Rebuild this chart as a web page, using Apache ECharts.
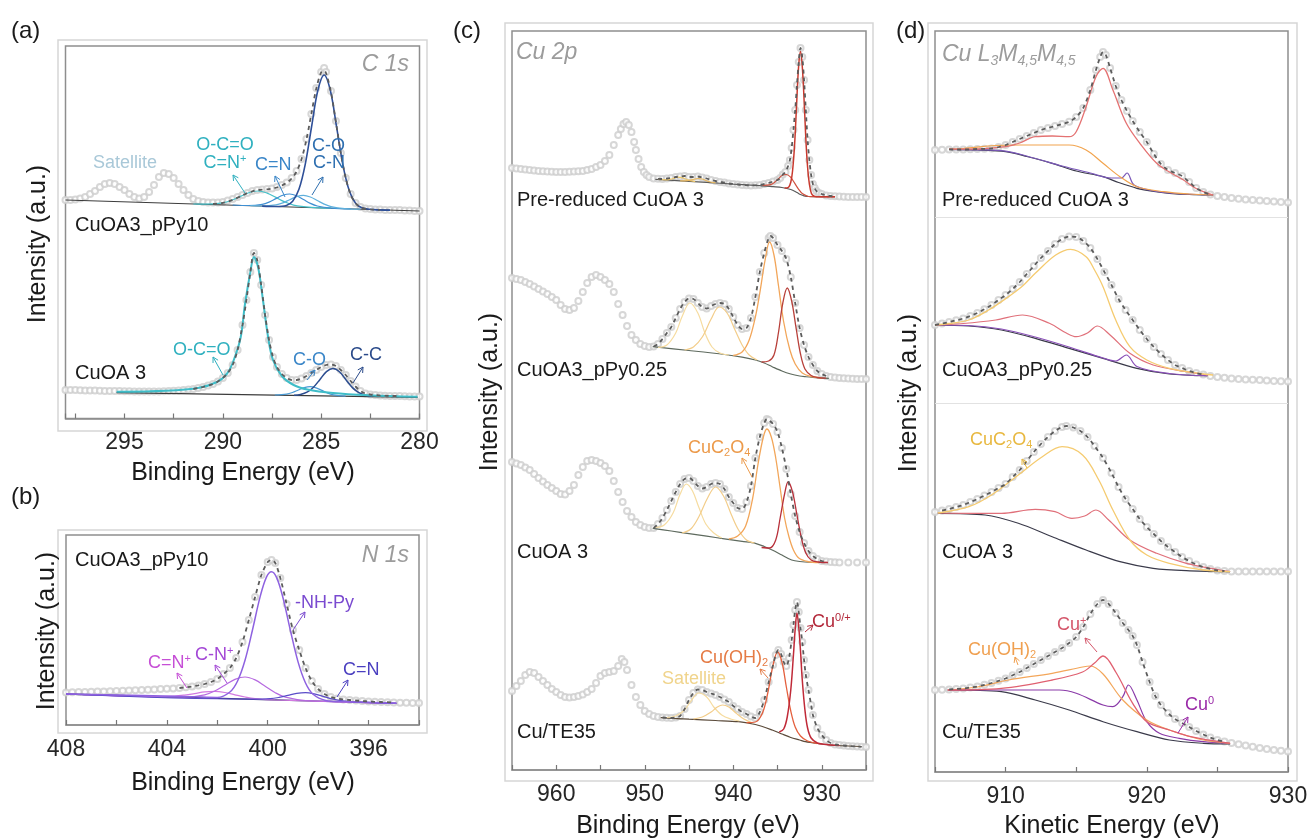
<!DOCTYPE html>
<html><head><meta charset="utf-8">
<script src="https://cdn.jsdelivr.net/npm/echarts@6/dist/echarts.min.js"></script>
<style>html,body{margin:0;padding:0;background:#fff}#c{width:1311px;height:840px}</style>
</head><body><div id="c"></div>
<script>
// ===================== DATA =====================
// tick labels
const ticksA = [295, 290, 285, 280];
const ticksB = [408, 404, 400, 396];
const ticksC = [960, 950, 940, 930];
const ticksD = [910, 920, 930];

// ---- (a) C 1s, CuOA3_pPy10  [binding energy eV, intensity a.u.]
const a1Data = [[298,15],[297.75,15],[297.5,15.5],[297.25,16.5],[297,18],[296.75,21],[296.5,24],[296.25,28],[296,31],[295.75,32],[295.5,31],[295.25,28],[295,25],[294.75,21],[294.5,18],[294.25,16.5],[294,18],[293.75,23],[293.5,30],[293.25,38],[293,42],[292.75,41],[292.5,37],[292.25,31],[292,25],[291.75,20],[291.5,16],[291.25,14],[291,13],[290.75,12.5],[290.5,12.5],[290.25,12.5],[290,13],[289.75,14.5],[289.5,16],[289.25,18],[289,20],[288.75,22],[288.5,24],[288.25,25],[288,25.5],[287.75,26],[287.5,26.5],[287.25,28],[287,30],[286.75,32.5],[286.5,37],[286.25,44],[286,56],[285.75,76],[285.5,101],[285.25,127],[285,143],[284.85,147],[284.75,143],[284.5,124],[284.25,94],[284,62],[283.75,37],[283.5,21],[283.25,12],[283,8],[282.75,6.5],[282.5,6],[282.25,5.5],[282,5.5],[281.75,5],[281.5,5],[281.25,5],[281,5],[280.75,4.5],[280.5,4.5],[280.25,4],[280,4]];
const a1Fit = [[290.5,11.0],[290,12.1],[289.5,15.1],[289,19.6],[288.75,22.0],[288.5,23.7],[288.25,24.8],[288,25.4],[287.75,25.7],[287.5,26.3],[287.25,27.5],[287,29.5],[286.75,32.2],[286.5,36.5],[286.25,43.5],[286,55.8],[285.75,75.3],[285.5,101],[285.25,126.4],[285,142.7],[284.85,144.5],[284.75,141.8],[284.5,123],[284.25,93],[284,61.9],[283.75,36.7],[283.5,20.5],[283.25,11.8],[283,7.9],[282.75,6.3],[282.5,5.6],[282,5.2]];
const a1Bg = [[298,15],[280,4]];
const a1Main = [[288,8.9],[287.3,8.5],[286.77,9.6],[286.45,13.8],[286.13,25.7],[285.81,50.7],[285.49,88],[285.17,124.5],[284.85,140],[284.53,124.2],[284.21,87.3],[283.89,49.6],[283.57,24.2],[283.25,11.8],[282.93,7.3],[282.3,5.4],[281.5,4.9]];
const a1CO = [[288.6,9.3],[288.0,9.0],[287.3,10.1],[286.95,12.1],[286.6,15.3],[286.25,18.4],[285.9,19.6],[285.55,18.0],[285.2,14.5],[284.85,10.9],[284.5,8.4],[283.8,6.4],[283,5.8]];
const a1CN = [[289.5,10],[288.7,9.5],[288.0,10.7],[287.65,12.9],[287.3,16.4],[286.95,19.7],[286.6,21.0],[286.25,19.3],[285.9,15.5],[285.55,11.6],[285.2,9.0],[284.5,6.9],[283.5,6.1]];
const a1OCO = [[291.5,11],[290.9,10.8],[290.0,12.1],[289.55,14.7],[289.1,18.6],[288.65,22.5],[288.2,24.0],[287.75,21.9],[287.3,17.6],[286.85,13.1],[286.4,9.9],[285.5,7.6],[284.5,6.8]];

// ---- (a) C 1s, CuOA 3
const a2Data = [[298,10],[297.75,10],[297.5,10],[297.25,9.8],[297,9.6],[296.75,9.5],[296.5,9.4],[296.25,9.2],[296,9],[295.75,9],[295.5,9],[295.25,8.9],[295,8.8],[294.75,8.7],[294.5,8.6],[294.25,8.5],[294,8.5],[293.75,8.5],[293.5,8.5],[293.25,8.6],[293,8.8],[292.75,9],[292.5,9.2],[292.25,9.5],[292,10],[291.75,10.5],[291.5,11],[291.25,12],[291,13],[290.75,14.5],[290.5,16],[290.25,18.5],[290,22],[289.75,27],[289.5,35],[289.25,50],[289,75],[288.8,100],[288.6,128],[288.42,147],[288.25,140],[288.05,115],[287.85,85],[287.65,60],[287.45,43],[287.25,33],[287,26],[286.75,22],[286.5,20],[286.25,20],[286,21.5],[285.75,24],[285.5,27],[285.25,30],[285,33],[284.75,35],[284.5,35.5],[284.25,34],[284,30],[283.75,25],[283.5,19],[283.25,13.5],[283,9],[282.75,6.5],[282.5,5.5],[282.25,5],[282,4.5],[281.75,4.3],[281.5,4],[281.25,4],[281,4],[280.75,3.8],[280.5,3.5],[280.25,3.5],[280,3.5]];
const a2Bg = [[295.4,7.3],[280.1,2.7]];
const a2OCO = [[295.4,8.3],[292.9,9.3],[291.2,12.3],[290.3,18],[289.8,26],[289.5,37],[289.1,62],[288.88,95],[288.6,128],[288.42,143],[288.2,132],[287.96,100],[287.7,63],[287.45,40],[287,24],[286.4,15],[285.7,10.5],[284.4,7],[282.6,4.8],[280.1,3.2]];
const a2CO = [[287.36,5.0],[286.76,5.9],[286.46,7.5],[286.16,10],[285.86,12.3],[285.56,13.3],[285.26,12.1],[284.96,9.6],[284.66,6.9],[284.36,5.1],[283.76,3.9]];
const a2CC = [[286.38,4.8],[286.05,5.6],[285.72,7.8],[285.39,12.8],[285.06,20.6],[284.73,28.4],[284.4,31.5],[284.07,28.2],[283.74,20.3],[283.41,12.4],[283.08,7.3],[282.75,4.7],[282.42,3.7]];

// ---- (b) N 1s, CuOA3_pPy10
const bData = [[408,17.5],[407.75,17.7],[407.5,18],[407.25,18],[407,18.2],[406.75,18.4],[406.5,18.6],[406.25,18.8],[406,19],[405.75,19.2],[405.5,19.5],[405.25,19.7],[405,20],[404.75,20.3],[404.5,20.6],[404.25,20.9],[404,21.2],[403.75,21.6],[403.5,22],[403.25,22.7],[403,23.5],[402.75,24.6],[402.5,26],[402.25,28],[402,31],[401.75,36],[401.5,42],[401.25,52],[401,68],[400.75,90],[400.5,113],[400.25,135],[400,148],[399.85,150],[399.7,147],[399.5,132],[399.25,106],[399,80],[398.75,60],[398.5,42],[398.25,29],[398,21],[397.75,16],[397.5,13],[397.25,11.5],[397,10.5],[396.75,10],[396.5,9.5],[396.25,9],[396,8.5],[395.75,8.2],[395.5,8],[395.25,7.8],[395,7.5],[394.75,7.3],[394.5,7.2],[394.25,7],[394,7]];
const bBg = [[408,16],[394.9,6.7]];
const bNHPy = [[408,16],[403,13.3],[402,12.6],[401.5,18],[401.2,28.8],[400.9,49.8],[400.6,80.5],[400.3,113.4],[400.05,132.9],[399.85,138.2],[399.65,132.6],[399.4,112.8],[399.1,79.5],[398.8,48.4],[398.5,27],[398.2,15.7],[397.7,9.6],[397,8.4],[394.9,6.7]];
const bCNp = [[408,16],[403.3,12.9],[402.5,15.1],[402.1,19],[401.7,24.8],[401.3,30.6],[400.9,33],[400.5,30.1],[400.1,23.7],[399.7,17.3],[399.3,12.8],[398.5,9.5],[394.9,6.7]];
const bCdNp = [[408,16],[404.5,13.5],[403.7,13.9],[403.3,14.9],[402.9,16.4],[402.5,18.1],[402.1,18.6],[401.7,17.5],[401.3,15.2],[400.9,13],[400.5,11.4],[399.7,10],[394.9,6.7]];
const bCdN = [[408,16],[400.6,10.8],[399.9,11.3],[399.55,12.6],[399.2,14.6],[398.85,16.6],[398.5,17.3],[398.15,16.1],[397.8,13.7],[397.45,11.1],[397.1,9.4],[396.4,7.9],[394.9,6.7]];

// ---- (c) Cu 2p
const c1Data = [[965,32],[964.5,31.5],[964,31],[963.5,30.5],[963,30],[962.5,29.5],[962,29],[961.5,28.7],[961,28.5],[960.5,28.2],[960,28],[959.5,28],[959,28],[958.5,28.2],[958,28.5],[957.5,28.8],[957,29],[956.5,30],[956,31],[955.5,33],[955,35],[954.5,39],[954,45],[953.5,55],[953,65],[952.7,71],[952.4,76],[952.1,78],[951.8,75],[951.5,68],[951.2,58],[951,50],[950.7,41],[950.4,33],[950.1,28],[949.8,25],[949.5,23],[949,21.5],[948.5,21.2],[948,21],[947.5,21.5],[947,22],[946.5,23],[946,23.5],[945.5,24],[945,23],[944.5,23],[944,23.5],[943.5,22.5],[943,21.5],[942.5,20],[942,19],[941.5,18],[941,17.5],[940.5,16.5],[940,16],[939.5,15.5],[939,15],[938.5,14.7],[938,14.5],[937.5,14.7],[937,15],[936.5,16],[936,17],[935.5,18.5],[935,20],[934.7,22],[934.4,25.5],[934.1,28],[933.8,34],[933.6,40],[933.4,52],[933.2,70],[933,90],[932.8,115],[932.6,138],[932.4,152],[932.2,143],[932,120],[931.8,90],[931.6,60],[931.4,40],[931.2,25],[931,16],[930.8,12],[930.6,9],[930.3,7],[930,6],[929.5,4.5],[929,4],[928.5,3.7],[928,3.5],[927.5,3.3],[927,3],[926.5,3],[926,3],[925.5,3],[925,3]];
const c1Bg = [[948.8,20.7],[946,19.2],[943,17.6],[940,15.9],[937,14.4],[935.5,13.3],[934.5,12.5],[933.5,10.5],[932.8,7.5],[932.4,5.5],[932,4.2],[931.5,3.5],[930,3.3],[928.5,3.3]];
const c1Cu = [[934.2,12],[933.75,12.8],[933.5,17.7],[933.3,29],[933.07,55],[932.85,94],[932.62,133],[932.4,148.5],[932.18,131],[931.95,91],[931.73,50],[931.5,23],[931.27,9.7],[931.05,4.9],[930.6,3.3],[928.5,3.3]];
const c1Cu2 = [[936.7,14.6],[935.8,15.4],[935.35,17.6],[934.9,21.3],[934.45,24.7],[934,25.5],[933.55,23.1],[933.1,17.3],[932.65,11.2],[932.2,6.6],[931.3,3.4],[928.5,3.3]];
const c1SatA = [[948.5,20.6],[947.5,20.2],[946.8,21.5],[946.3,22.8],[945.8,22.3],[945,19.6],[944.3,18.4]];
const c1SatB = [[946,19.2],[945.2,19.4],[944.5,20.6],[944,21.5],[943.5,21],[942.8,18.5],[942,17.1]];

const c2Data = [[965,107],[964.5,106],[964,105],[963.5,103],[963,101],[962.5,98.5],[962,96],[961.5,93.5],[961,91],[960.5,88],[960,85],[959.5,80],[959,76],[958.5,75],[958,77],[957.5,84],[957,93],[956.5,102],[956,108],[955.5,110],[955,108],[954.5,105],[954,101],[953.5,93],[953,81],[952.5,70],[952,59],[951.5,50],[951,45],[950.5,41],[950,39],[949.5,38],[949,38.5],[948.5,41],[948,46],[947.5,52],[947,58],[946.5,67],[946,76],[945.5,83],[945,86.5],[944.5,86],[944,82],[943.5,78],[943,76.5],[942.5,79],[942,81],[941.5,82],[941,81],[940.5,76],[940,68],[939.5,60],[939,56],[938.5,57],[938,67],[937.5,88],[937,113],[936.5,132],[936,147],[935.8,149],[935.5,147],[935,140],[934.5,134],[934,126],[933.5,108],[933,82],[932.5,57],[932,40],[931.5,28],[931,20],[930.5,14],[930,11],[929.5,9],[929,8],[928.5,7.5],[928,7],[927.5,6.7],[927,6.5],[926.5,6.2],[926,6],[925.5,6],[925,6]];
const c2Bg = [[949.1,38.3],[945,34.5],[941,30.5],[939,27.8],[937.5,25],[936.5,22],[935.6,18.3],[934.5,14],[933.5,11],[932.5,9],[931.85,8.3],[930.5,7.2],[929.2,6.7]];
const c2Sat1 = [[948.5,37.5],[947.5,40],[946.5,52],[945.8,68],[944.9,82],[944,72],[943.2,52],[942.4,38],[941.5,32],[940.5,30]];
const c2Sat2 = [[945.5,35],[944.5,38],[943.5,48],[942.5,66],[941.6,78],[940.7,72],[939.8,55],[939,40],[938.2,30],[937.3,25]];
const c2Ox = [[940,29.5],[939,33],[938.2,45],[937.5,68],[937,92],[936.4,125],[935.9,143],[935.4,130],[934.9,100],[934.3,63],[933.6,35],[933,21],[932.2,12],[931.2,8.5],[930,7]];
const c2Cu = [[936.8,23],[936,24],[935.4,30],[934.9,52],[934.4,82],[933.9,97],[933.4,84],[932.9,57],[932.4,31],[931.9,16],[931.2,9.5],[930.5,7.5],[929.5,6.8]];

const c3Data = [[965,108],[964.5,106.5],[964,105],[963.5,102.5],[963,100],[962.5,96],[962,92],[961.5,88.5],[961,85],[960.5,82],[960,79],[959.5,76],[959,75.5],[958.5,79],[958,85],[957.5,95],[957,103],[956.5,109],[956,110],[955.5,109],[955,107],[954.5,104],[954,99],[953.5,89],[953,78],[952.5,68],[952,59],[951.5,53],[951,48],[950.5,45],[950,43],[949.5,42],[949,42],[948.5,46],[948,52],[947.5,60],[947,69],[946.5,78],[946,86],[945.5,91],[945,92],[944.5,89],[944,84],[943.5,81.5],[943,83],[942.5,86],[942,87],[941.5,86],[941,81],[940.5,73],[940,67],[939.5,62],[939,61],[938.5,68],[938,84],[937.5,112],[937,133],[936.5,147],[936.2,151],[936,150],[935.5,146],[935,138],[934.5,122],[934,101],[933.5,76],[933,54],[932.5,38],[932,27],[931.5,19],[931,14],[930.5,11],[930,9],[929.5,8.5],[929,8],[928.5,7.7],[928,7.5],[927,7.5],[926,7.5],[925,7.5]];
const c3Bg = [[949.1,41.7],[947,39],[945,36.4],[943,33.8],[941,31.2],[939,28.6],[937.5,26.7],[936.5,23.5],[935.6,20],[934.5,15],[933.4,10],[932.5,8.5],[931.1,7.7],[929.5,7.5]];
const c3Sat1 = [[948.8,42.5],[947.8,45],[946.8,57],[946,76],[945.3,86],[944.6,79],[943.9,63],[943.1,46],[942.2,37],[941.3,32]];
const c3Sat2 = [[945.8,37],[944.8,41],[943.9,53],[942.9,72],[942,83],[941.1,74],[940.2,55],[939.4,40],[938.5,30],[937.6,27]];
const c3Ox = [[940.5,31],[939.5,34],[938.6,44],[937.8,72],[937.2,106],[936.6,133],[936.2,141],[935.7,133],[935.2,112],[934.7,82],[934.2,52],[933.7,33],[933.2,20],[932.6,12],[931.6,8.5],[930.3,7.5]];
const c3Cu = [[936.8,22.5],[935.9,22],[935.2,30],[934.7,52],[934.2,76],[933.8,88],[933.3,78],[932.8,55],[932.3,32],[931.8,17],[931.2,10],[930.4,8],[929.3,7.5]];

const c4Data = [[965,64],[964.5,69],[964,74],[963.5,80],[963,83],[962.5,82],[962,78],[961.5,74],[961,70],[960.5,66],[960,63],[959.5,60],[959,58],[958.5,57.5],[958,58],[957.5,59],[957,60.5],[956.5,63],[956,66],[955.5,72],[955,79],[954.5,82],[954,83],[953.5,84],[953,89],[952.6,96],[952.3,93],[952,85],[951.5,70],[951,58],[950.5,50],[950,44],[949.5,41],[949,39],[948.5,38],[948,37.5],[947.5,37.2],[947,37],[946.5,37.5],[946,39],[945.5,46],[945,55],[944.5,62],[944,65.5],[943.5,65],[943,63],[942.5,61.5],[942,60],[941.5,58],[941,55.5],[940.5,53],[940,49],[939.5,46],[939,43],[938.5,41],[938,38.5],[937.5,37],[937,43],[936.5,55],[936,73],[935.5,90],[935.2,100],[934.9,105],[934.6,101],[934.3,93],[934,89],[933.7,97],[933.4,115],[933.2,130],[933,145],[932.8,153],[932.6,143],[932.4,127],[932.2,113],[932,95],[931.8,80],[931.5,65],[931.2,50],[931,40],[930.5,27],[930,20],[929.5,15],[929,12],[928.5,10.5],[928,10],[927.5,9.5],[927,9],[926.5,8.7],[926,8.5],[925.5,8.2],[925,8]];
const c4Bg = [[948.2,37.3],[945,35.8],[942,34.5],[939.4,33.3],[937.5,30.5],[935.6,25],[934.5,21],[933.5,17.5],[932.5,15],[931.85,13.3],[930.5,11.5],[929,10],[927,9],[925.5,8.5]];
const c4Sat1 = [[947.5,37.5],[946.5,39],[945.5,45],[944.7,55],[943.9,62],[943,58],[942.2,48],[941.3,40],[940.3,36],[939.3,34]];
const c4Sat2 = [[944.5,36],[943.5,38],[942.5,43],[941.8,48],[941.2,50],[940.5,48],[939.7,42],[938.8,36],[937.8,32]];
const c4OH = [[938.5,32.3],[937.5,33],[936.7,42],[936.1,62],[935.5,90],[935,103],[934.5,93],[934,68],[933.5,44],[933,28],[932.4,19],[931.6,14],[930.5,11.5]];
const c4Cu = [[934.8,23],[934.3,26],[933.9,38],[933.5,65],[933.2,100],[933,126],[932.8,142],[932.6,128],[932.4,104],[932.2,75],[931.9,45],[931.6,27],[931.2,17],[930.5,12],[929.8,10.8],[928,9.5]];

// ---- (d) Cu L3M4,5M4,5  [kinetic energy eV, intensity a.u.]
const d1Data = [[904.5,60],[905,60],[905.5,60.2],[906,60.5],[906.5,60.5],[907,60.5],[907.5,60.7],[908,61],[908.5,61.2],[909,61.5],[909.5,63],[910,65],[910.5,68],[911,71],[911.5,74],[912,77],[912.5,80],[913,82],[913.5,84],[914,86],[914.5,88.3],[915,93],[915.5,102],[916,120],[916.4,140],[916.7,153],[916.9,158],[917.1,155],[917.4,142],[917.8,124],[918.2,110],[918.6,99],[919,89],[919.5,78],[920,68],[920.5,56],[921,46],[921.5,40],[922,37],[922.5,34],[923,28],[923.5,22],[924,18],[924.5,15.5],[925,14],[925.5,13],[926,12],[926.5,11.2],[927,10.5],[927.5,10],[928,9.5],[928.5,9],[929,8.5],[929.5,8],[930,7.5]];
const d1Bg = [[906,60.7],[908,60],[910,58.3],[911.5,53.5],[913.3,46.7],[915,39],[916.9,33.3],[918,27.5],[919.3,21.7],[920.5,18.5],[921.6,16.7],[923,15.5],[924.7,15]];
const d1Red = [[906,60.8],[908,61],[910,63.3],[911,67],[912.1,73.3],[913.3,74],[914.5,73.3],[915,78.3],[915.7,103.3],[916.4,133.3],[916.9,141.7],[917.6,120],[918.55,86.7],[919.6,65],[920.7,46.7],[921.6,38],[922.6,30],[923.3,23],[924,18.3],[924.7,15]];
const d1Ox = [[906,60.8],[907,61.5],[909.3,64.5],[911,65],[913,65],[914.5,65],[915.7,60],[916.9,46.7],[918.1,33.3],[919.3,23.3],[921.2,18.3],[923,16],[924.7,15]];
const d1Cu0 = [[906,60.7],[908,60.2],[910,58.8],[912,52],[914,44],[916,37],[917.5,32],[918.2,32],[918.6,37],[919.1,25],[920.5,19],[922,16.5],[924.7,15]];

const d2Data = [[904.5,64.5],[905,65],[905.5,66.5],[906,68],[906.5,69.7],[907,71.5],[907.5,74],[908,77],[908.5,80.8],[909,85],[909.5,90],[910,95],[910.5,101],[911,108],[911.5,116],[912,124],[912.5,132],[913,139],[913.5,146],[914,151],[914.5,153.5],[915,153],[915.5,149],[916,142],[916.5,131],[917,118],[917.5,105],[918,91],[918.5,80],[919,70],[919.5,60],[920,51],[920.5,43],[921,36],[921.5,30],[922,25],[922.5,22],[923,19],[923.5,17],[924,15.5],[924.5,14],[925,13],[925.5,12.2],[926,11.5],[926.5,11],[927,10.5],[927.5,10.2],[928,10],[928.5,9.5],[929,9],[929.5,8.7],[930,8.5]];
const d2Bg = [[905,65],[907.4,64],[909.7,60],[912.1,51.7],[914.5,41.7],[916.9,31.7],[919.3,21.7],[921.6,16],[924.3,14.3]];
const d2Ox = [[905,65],[906,66.5],[907.4,70],[908.8,80],[910.2,93.3],[911.2,104],[912.1,116.7],[913.55,135],[914.6,140.7],[915.7,133.3],[916.3,120],[916.9,103.3],[917.8,70],[918.8,43.3],[920,30],[921.6,21.7],[924,16],[924.7,15]];
const d2Red = [[905,65],[907,66.5],[909.3,70],[911.2,75],[913.1,66.7],[914.3,57],[915,53.3],[915.8,57],[916.5,64],[917.4,55],[918.8,36.7],[920.45,25],[922.8,18.3],[924.3,15]];
const d2Cu0 = [[905,65],[907.4,64.5],[909.7,61],[912.1,53],[914.5,43],[916.9,32],[917.8,29],[918.55,35],[919.3,23.5],[921.6,16.5],[924.3,14.3]];

const d3Data = [[904.5,67],[905,68],[905.5,69.5],[906,71],[906.5,73],[907,75],[907.5,78],[908,81],[908.5,84.5],[909,88],[909.5,92],[910,96],[910.5,103],[911,110],[911.5,119],[912,128],[912.5,136],[913,143],[913.5,149],[914,153],[914.3,154],[914.8,152.5],[915.3,149],[915.8,143],[916.3,134],[916.9,122],[917.5,107],[918,93],[918.5,81],[919,71],[919.5,61],[920,53],[920.5,46],[921,39],[921.5,33],[922,28],[922.5,23],[923,19],[923.5,15.5],[924,13],[924.5,11],[925,9.5],[925.5,9],[926,8.5],[926.5,8.5],[927,8.5],[927.5,8.5],[928,8.5],[928.5,8.5],[929,8.5],[929.5,8.5],[930,8.5]];
const d3Bg = [[905.2,66.7],[908.55,65],[910.9,56.7],[913.3,43.3],[915.7,30],[918.1,18.3],[920.45,11.7],[922.8,9.3],[925.9,8.3]];
const d3Ox = [[905.2,67],[907.4,73.3],[909,85],[910.9,105],[912.6,123.3],[914,133.3],[915.45,125],[916.6,100],[917.6,70],[918.8,40],[920,25],[921.6,16.7],[924,10],[925.9,8.3]];
const d3Red = [[905.2,67],[907.5,66.7],[909.7,66.7],[912.1,70.7],[913.5,68.3],[914.7,61.7],[915.6,64],[916.4,70],[917.3,60],[918.8,40],[920.7,26.7],[922.8,16.7],[925.2,10],[925.9,8.3]];

const d4Data = [[904.5,70],[905,70],[905.5,70.2],[906,70.5],[906.5,71],[907,71.5],[907.5,72.5],[908,73.5],[908.5,75.2],[909,77],[909.5,79.2],[910,81.5],[910.5,84.7],[911,88],[911.5,92],[912,96],[912.5,100],[913,104],[913.5,108],[914,112],[914.5,117],[915,123],[915.5,133],[916,146],[916.5,156],[916.9,160],[917.3,156],[917.8,147],[918.3,137],[918.7,130],[919,124],[919.3,115],[919.7,98],[920.2,78],[920.6,64],[921,55],[921.5,47],[922,41],[922.5,37],[923,33],[923.5,29],[924,25.5],[924.5,22.5],[925,20],[925.5,18.5],[926,17],[926.5,15.7],[927,14.5],[927.5,13.2],[928,12],[928.5,11],[929,10],[929.5,9.2],[930,8.5]];
const d4Bg = [[905.9,70],[909.7,68.3],[912.1,60],[914.5,50],[916.9,38.3],[919.3,28.3],[921.6,20],[924,16.7],[925.9,16]];
const d4OH = [[905.9,70],[908,73],[910.2,80],[913.3,86.7],[915.45,93],[916,94],[916.9,86],[918.3,60],[920,40],[921.6,30],[924,20],[925.9,16.7]];
const d4Red = [[905.9,70],[909.7,71.7],[913.3,80],[915.45,88],[916.3,97],[916.9,104],[917.8,88],[919,56.7],[920,38.3],[921.6,30],[923.1,23.3],[925.9,16.7]];
const d4Cu0 = [[905.9,70],[909.7,70],[913.8,70],[915,66.7],[916.9,55],[917.6,53.3],[918.3,63.3],[918.7,75],[919.3,60],[920,38.3],[920.9,26.7],[922.3,21.7],[924,18.3],[925.9,16.7]];

// ===================== LAYOUT / STYLE =====================
const FONT = "'Liberation Sans', Arial, Helvetica, sans-serif";
const panels = {
  a: {x0:65.5, x1:419.5, y0:46, y1:418.5, min:280, max:298, interval:2.5, inverse:true, labels:ticksA},
  b: {x0:66, x1:419, y0:535, y1:725, min:394, max:408, interval:2, inverse:true, labels:ticksB},
  c: {x0:512, x1:866, y0:31, y1:770, min:925, max:965, interval:5, inverse:true, labels:ticksC},
  d: {x0:935, x1:1288, y0:31, y1:772, min:905, max:930, interval:5, inverse:false, labels:ticksD}
};
const DATA_C = '#cdcdcd', ENV_C = '#5c5c5c';
const fitOf = (arr, hi, lo) => arr.filter(p => p[0] <= hi && p[0] >= lo);

const spectra = [
  {p:'a', base:215, data:a1Data, env:a1Fit, bg:[a1Bg,'#3c3c3c',1.2],
    comps:[[a1OCO,'#45c0c9',1.2],[a1CN,'#3f8fd2',1.2],[a1CO,'#5fb0dc',1.2],[a1Main,'#2e4f98',1.6]]},
  {p:'a', base:400, data:a2Data, env:fitOf(a2Data,291.5,281), bg:[a2Bg,'#3c3c3c',1.2],
    comps:[[a2CO,'#4a9ad4',1.2],[a2CC,'#2c4d90',1.5],[a2OCO,'#3fbdc8',2]]},
  {p:'b', base:710, data:bData, env:fitOf(bData,403.5,395), bg:[bBg,'#303070',1.3],
    comps:[[bCdNp,'#d27ae0',1.2],[bCNp,'#b66ae0',1.2],[bCdN,'#5a4cc8',1.2],[bNHPy,'#8e62e0',1.5]]},
  {p:'c', base:200, data:c1Data, env:fitOf(c1Data,948.8,928.5), bg:[c1Bg,'#5a5a5a',1.2],
    comps:[[c1SatA,'#efc96e',1.2],[c1SatB,'#e8b860',1.2],[c1Cu2,'#d0503e',1.2],[c1Cu,'#c8392e',1.5]]},
  {p:'c', base:385, data:c2Data, env:fitOf(c2Data,949,929.2), bg:[c2Bg,'#5e6a5e',1.2],
    comps:[[c2Sat1,'#f6dca0',1.2],[c2Sat2,'#f3cd8a',1.2],[c2Ox,'#f2a65a',1.3],[c2Cu,'#b8403a',1.3]]},
  {p:'c', base:570, data:c3Data, env:fitOf(c3Data,949,929.5), bg:[c3Bg,'#5e6a5e',1.2],
    comps:[[c3Sat1,'#f6dca0',1.2],[c3Sat2,'#f3cd8a',1.2],[c3Ox,'#f2a65a',1.3],[c3Cu,'#b8303a',1.3]]},
  {p:'c', base:755, data:c4Data, env:fitOf(c4Data,948.2,925.5), bg:[c4Bg,'#5a4a3a',1.2],
    comps:[[c4Sat1,'#f6dca0',1.2],[c4Sat2,'#f3cd8a',1.2],[c4OH,'#e4603e',1.3],[c4Cu,'#c02a38',1.5]]},
  {p:'d', base:210, data:d1Data, env:fitOf(d1Data,924.7,906), bg:[d1Bg,'#3a3a4a',1.2],
    comps:[[d1Cu0,'#7a58b8',1.2],[d1Ox,'#f2a44e',1.2],[d1Red,'#e47272',1.3]]},
  {p:'d', base:390, data:d2Data, env:fitOf(d2Data,924.3,905), bg:[d2Bg,'#3a3a4a',1.2],
    comps:[[d2Cu0,'#8a50b8',1.2],[d2Red,'#e0707a',1.2],[d2Ox,'#f5cb70',1.3]]},
  {p:'d', base:580, data:d3Data, env:fitOf(d3Data,925.9,905.2), bg:[d3Bg,'#3a3a4a',1.2],
    comps:[[d3Red,'#e0707a',1.2],[d3Ox,'#f5cb70',1.3]]},
  {p:'d', base:760, data:d4Data, env:fitOf(d4Data,925.9,905.9), bg:[d4Bg,'#3a3a4a',1.2],
    comps:[[d4Cu0,'#8a3aa8',1.2],[d4OH,'#f3a65a',1.2],[d4Red,'#e06070',1.3]]}
];

// ===================== BUILD =====================
const option = {animation:false, backgroundColor:'#fff', grid:[], xAxis:[], yAxis:[], series:[], graphic:[]};

Object.keys(panels).forEach(k => {
  const p = panels[k];
  const gi = option.grid.length;
  option.grid.push({left:p.x0, top:p.y0, width:p.x1-p.x0, height:p.y1-p.y0, show:true,
    borderColor:'#8e8e8e', borderWidth:1.5, backgroundColor:'transparent'});
  option.xAxis.push({gridIndex:gi, type:'value', min:p.min, max:p.max, interval:p.interval, inverse:p.inverse,
    axisLine:{show:true, onZero:false, lineStyle:{color:'#8e8e8e', width:1.5}},
    axisTick:{show:true, inside:true, length:5, lineStyle:{color:'#777', width:1.2}},
    axisLabel:{show:true, margin:13, fontSize:23, color:'#262626', fontFamily:FONT,
      formatter: v => p.labels.indexOf(Math.round(v*100)/100) >= 0 ? String(Math.round(v)) : ''},
    splitLine:{show:false}});
  option.yAxis.push({gridIndex:gi, type:'value', min:0, max:1, show:false});
});

spectra.forEach(s => {
  const p = panels[s.p];
  const gi = option.grid.length;
  option.grid.push({left:p.x0, top:p.y0, width:p.x1-p.x0, height:s.base-p.y0, show:false});
  option.xAxis.push({gridIndex:gi, type:'value', min:p.min, max:p.max, inverse:p.inverse, show:false});
  option.yAxis.push({gridIndex:gi, type:'value', min:0, max:s.base-p.y0, show:false});
  option.series.push({type:'scatter', xAxisIndex:gi, yAxisIndex:gi, data:s.data, symbol:'emptyCircle',
    symbolSize:6, itemStyle:{color:DATA_C, borderWidth:1}, z:1, silent:true});
  option.series.push({type:'line', xAxisIndex:gi, yAxisIndex:gi, data:s.bg[0], showSymbol:false, smooth:0.3,
    lineStyle:{color:s.bg[1], width:s.bg[2]}, z:2, silent:true});
  s.comps.forEach(c => option.series.push({type:'line', xAxisIndex:gi, yAxisIndex:gi, data:c[0], showSymbol:false,
    smooth:0.35, lineStyle:{color:c[1], width:c[2]}, z:3, silent:true}));
  option.series.push({type:'line', xAxisIndex:gi, yAxisIndex:gi, data:s.env, showSymbol:false, smooth:0.3,
    lineStyle:{color:ENV_C, width:1.8, type:[4,4]}, z:4, silent:true});
});

// ---------- graphics ----------
const G = option.graphic;
function frame(x, y, w, h){ G.push({type:'rect', shape:{x, y, width:w, height:h}, style:{fill:'transparent', stroke:'#d6d6d6', lineWidth:1.5}, silent:true, z:0}); }
function hline(x1, x2, y){ G.push({type:'line', shape:{x1, y1:y, x2, y2:y}, style:{stroke:'#e2e2e2', lineWidth:1.2}, silent:true, z:0}); }
function txt(x, y, text, o){
  o = o || {};
  const size = o.size || 20, align = o.align || 'left';
  const font = (o.italic ? 'italic ' : '') + size + 'px ' + FONT;
  G.push({type:'text', x, y, rotation:o.rot || 0, z:20, silent:true,
    style:{text, fill:o.color || '#1a1a1a', font, align, textAlign:align, verticalAlign:'middle', textVerticalAlign:'middle'}});
}
// rich text: parts = [[string, 'n'|'s'|'p'], ...]
function rtxt(x, y, parts, o){
  o = o || {};
  const size = o.size || 18, color = o.color || '#1a1a1a', align = o.align || 'left';
  const it = o.italic ? 'italic' : 'normal';
  const rich = {
    n:{fontSize:size, fontFamily:FONT, fontStyle:it, fill:color, color:color},
    s:{fontSize:Math.round(size*0.62), fontFamily:FONT, fontStyle:it, fill:color, color:color, padding:[Math.round(size*0.5),0,0,0]},
    p:{fontSize:Math.round(size*0.62), fontFamily:FONT, fontStyle:it, fill:color, color:color, padding:[0,0,Math.round(size*0.45),0]}
  };
  const text = parts.map(q => '{' + q[1] + '|' + q[0] + '}').join('');
  G.push({type:'text', x, y, z:20, silent:true,
    style:{text, rich, fill:color, font:size + 'px ' + FONT, align, textAlign:align, verticalAlign:'middle', textVerticalAlign:'middle'}});
}
function arrow(x1, y1, x2, y2, color){
  const a = Math.atan2(y2 - y1, x2 - x1), L = 6, sp = 0.5;
  const p1 = [x2 - L*Math.cos(a - sp), y2 - L*Math.sin(a - sp)];
  const p2 = [x2 - L*Math.cos(a + sp), y2 - L*Math.sin(a + sp)];
  G.push({type:'line', shape:{x1, y1, x2, y2}, style:{stroke:color, lineWidth:1}, silent:true, z:20});
  G.push({type:'polyline', shape:{points:[p1, [x2, y2], p2]}, style:{stroke:color, lineWidth:1, fill:null}, silent:true, z:20});
}

// outer frames
frame(58, 40, 369, 391);
frame(58, 530, 369, 203);
frame(505, 23, 368, 758);
frame(928, 23, 369, 758);
// separators in (d)
hline(935, 1288, 217.5);
hline(935, 1288, 403.5);

// panel letters
txt(11, 31, '(a)', {size:24});
txt(11, 497, '(b)', {size:24});
txt(453, 31, '(c)', {size:24});
txt(896, 31, '(d)', {size:24});

// spectrum titles
txt(409, 65, 'C 1s', {size:23, italic:true, color:'#9c9c9c', align:'right'});
txt(409, 556, 'N 1s', {size:23, italic:true, color:'#9c9c9c', align:'right'});
txt(516, 53, 'Cu 2p', {size:23, italic:true, color:'#9c9c9c'});
rtxt(942, 55, [['Cu L','n'],['3','s'],['M','n'],['4,5','s'],['M','n'],['4,5','s']], {size:23, italic:true, color:'#9c9c9c'});

// axis titles
txt(243, 473, 'Binding Energy (eV)', {size:25, align:'center'});
txt(243, 783, 'Binding Energy (eV)', {size:25, align:'center'});
txt(688, 826, 'Binding Energy (eV)', {size:25, align:'center'});
txt(1112, 826, 'Kinetic Energy (eV)', {size:25, align:'center'});
txt(38, 244, 'Intensity (a.u.)', {size:25, align:'center', rot:Math.PI/2});
txt(47, 631, 'Intensity (a.u.)', {size:25, align:'center', rot:Math.PI/2});
txt(490, 392, 'Intensity (a.u.)', {size:25, align:'center', rot:Math.PI/2});
txt(909, 393, 'Intensity (a.u.)', {size:25, align:'center', rot:Math.PI/2});

// sample labels
txt(75, 225, 'CuOA3_pPy10');
txt(75, 373, 'CuOA 3');
txt(75, 560, 'CuOA3_pPy10');
txt(517, 200, 'Pre-reduced CuOA 3');
txt(517, 370, 'CuOA3_pPy0.25');
txt(517, 552, 'CuOA 3');
txt(517, 732, 'Cu/TE35');
txt(942, 200, 'Pre-reduced CuOA 3');
txt(942, 370, 'CuOA3_pPy0.25');
txt(942, 552, 'CuOA 3');
txt(942, 732, 'Cu/TE35');

// (a) annotations
txt(93, 163, 'Satellite', {size:18, color:'#a9c8d8'});
txt(225, 145, 'O-C=O', {size:18, color:'#2fb0bf', align:'center'});
rtxt(225, 163, [['C=N','n'],['+','p']], {size:18, color:'#2fb0bf', align:'center'});
arrow(245, 193, 233, 175, '#2fb0bf');
txt(255, 165, 'C=N', {size:18, color:'#3a86c8'});
arrow(285, 197, 275, 176, '#3a86c8');
txt(312, 146, 'C-O', {size:18, color:'#2e6fb0'});
txt(313, 163, 'C-N', {size:18, color:'#2e6fb0'});
arrow(312, 195, 323, 177, '#2e6fb0');
txt(173, 350, 'O-C=O', {size:18, color:'#2fb0bf'});
arrow(223, 375, 213, 357, '#2fb0bf');
txt(293, 360, 'C-O', {size:18, color:'#3a86c8'});
arrow(307, 380, 315, 370, '#3a86c8');
txt(350, 355, 'C-C', {size:18, color:'#2a4a8a'});
arrow(353, 383, 363, 367, '#2a4a8a');

// (b) annotations
txt(295, 603, '-NH-Py', {size:18, color:'#7a4ad0'});
arrow(293, 630, 305, 612, '#7a4ad0');
rtxt(148, 663, [['C=N','n'],['+','p']], {size:18, color:'#c64fd6'});
arrow(187, 688, 177, 673, '#c64fd6');
rtxt(195, 655, [['C-N','n'],['+','p']], {size:18, color:'#a347d6'});
arrow(227, 683, 215, 665, '#a347d6');
txt(343, 670, 'C=N', {size:18, color:'#4a3fc0'});
arrow(337, 697, 348, 680, '#4a3fc0');

// (c) annotations
rtxt(688, 448, [['CuC','n'],['2','s'],['O','n'],['4','s']], {size:18, color:'#ec9a4a'});
arrow(752, 477, 742, 458, '#ec9a4a');
rtxt(700, 658, [['Cu(OH)','n'],['2','s']], {size:18, color:'#e57b45'});
arrow(768, 678, 760, 669, '#e57b45');
txt(662, 679, 'Satellite', {size:18, color:'#f0d48c'});
rtxt(812, 622, [['Cu','n'],['0/+','p']], {size:18, color:'#b3283a'});
arrow(805, 632, 813, 625, '#b3283a');

// (d) annotations
rtxt(970, 440, [['CuC','n'],['2','s'],['O','n'],['4','s']], {size:18, color:'#e8b840'});
arrow(1027, 468, 1022, 459, '#e8b840');
rtxt(968, 650, [['Cu(OH)','n'],['2','s']], {size:18, color:'#f0a050'});
arrow(1018, 665, 1015, 657, '#f0a050');
rtxt(1057, 625, [['Cu','n'],['+','p']], {size:18, color:'#d4566a'});
arrow(1097, 652, 1085, 638, '#d4566a');
rtxt(1185, 705, [['Cu','n'],['0','p']], {size:18, color:'#9a2aa8'});
arrow(1178, 733, 1188, 717, '#9a2aa8');

const chart = echarts.init(document.getElementById('c'), null, {renderer:'canvas'});
chart.setOption(option);
</script>
</body></html>
